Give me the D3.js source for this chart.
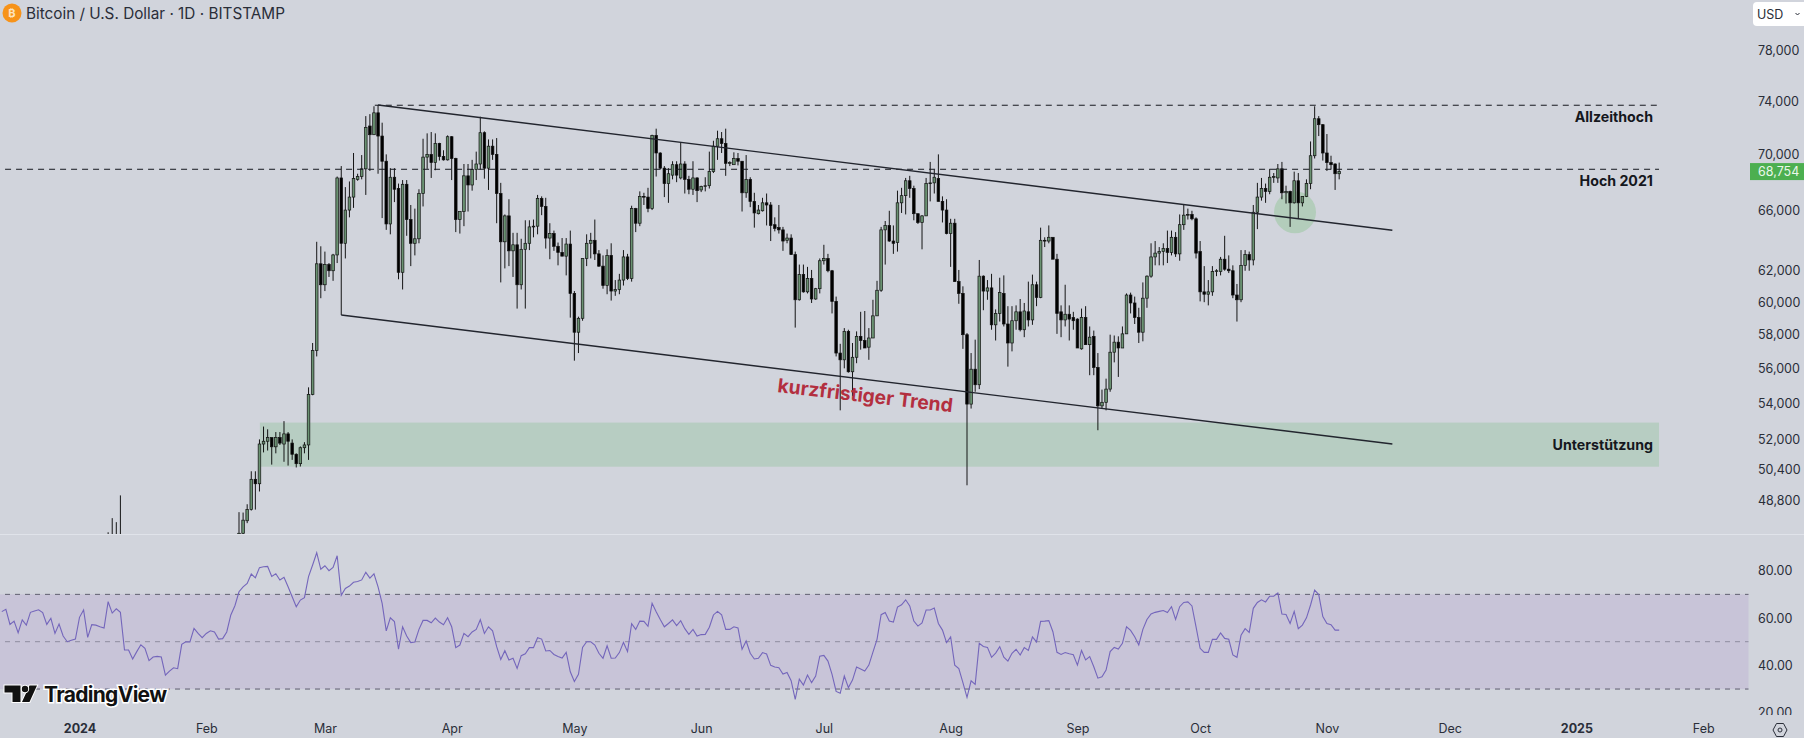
<!DOCTYPE html>
<html>
<head>
<meta charset="utf-8">
<style>
  html, body { margin: 0; padding: 0; background: #d1d4dc; }
  svg { display: block; font-family: Inter, "Noto Sans", sans-serif; }
</style>
<script src="https://cdn.jsdelivr.net/npm/d3@7"></script>
</head>
<body>
<svg id="chart" width="1804" height="738"></svg>
<script>
// day numbers count from 1 Jan 2024 = 0
var candleDays = [7, 8, 9, 10].concat(d3.range(39, 309));

var opens = [
  44000, 46950, 46100, 46650,
  45300, 47150, 47770, 48330, 49880, 49650, 51750, 51900, 52100, 51600,
  52100, 51750, 52300, 51800, 51200, 50700, 51550, 51700, 54500, 57050,
  62450, 61100, 62400, 62000, 63030, 68300, 63800, 66050, 66950, 68200,
  68400, 68950, 72100, 71450, 73100, 71350, 69500, 65100, 68350, 67550,
  61900, 67850, 65400, 63800, 64100, 67200, 69800, 70000, 69400, 70800,
  69850, 69600, 71300, 69700, 65400, 65950, 68450, 67800, 68900, 69300,
  71600, 69000, 70600, 70000, 67200, 63900, 65650, 63300, 63700, 61100,
  63400, 63800, 64900, 64950, 66850, 66300, 64150, 64450, 63600, 63200,
  62950, 63750, 60550, 58150, 59000, 62800, 63800, 64000, 63100, 62300,
  61050, 63000, 60700, 60800, 61400, 62900, 61500, 66150, 65150, 67000,
  66950, 66150, 71400, 70100, 69000, 67900, 68500, 69250, 68300, 69300,
  68200, 67500, 68300, 67450, 67700, 67750, 68750, 70600, 71150, 70800,
  69350, 69250, 69700, 69500, 67250, 68200, 66650, 65800, 66000, 66550,
  66400, 65050, 64850, 64700, 64000, 64150, 63050, 60150, 61750, 60650,
  61500, 60200, 60850, 62650, 62800, 62000, 60050, 56900, 56500, 58200,
  55800, 56650, 57900, 57650, 57250, 57800, 59150, 60750, 64700, 65000,
  63950, 63850, 66550, 67050, 68100, 67550, 65800, 65200, 65650, 67900,
  67950, 68250, 66650, 66050, 64450, 65150, 61300, 60550, 58000, 53950,
  55950, 55050, 61650, 60700, 60900, 58600, 59300, 60550, 58650, 57500,
  58850, 59400, 58300, 59400, 58900, 61100, 60300, 64000, 63950, 64200,
  62750, 59400, 58900, 59250, 59050, 58950, 57150, 59050, 57400, 57900,
  56050, 53850, 54050, 54800, 56950, 57550, 57200, 58050, 60450, 59950,
  59050, 58150, 60250, 61650, 62900, 63150, 63250, 63450, 63200, 64200,
  63100, 65050, 65700, 65750, 65450, 63250, 60650, 60500, 60650, 61950,
  61950, 62750, 62100, 62000, 60450, 60150, 62350, 63050, 62700, 65900,
  66950, 67550, 67350, 68350, 68300, 68950, 67250, 67350, 66550, 68100,
  66550, 67000, 67900, 69900, 72650, 72200, 70100, 69400, 69300, 68600
];

var highs = [
  47200, 47900, 47700, 49050,
  48200, 48180, 48600, 50300, 50300, 52000, 52700, 52550, 52100, 52400,
  52400, 53000, 52400, 52000, 51250, 51620, 51850, 54900, 57500, 63900,
  63600, 63250, 62500, 63100, 68400, 69150, 67650, 68050, 70100, 68600,
  69950, 72850, 73000, 73600, 73700, 72350, 70000, 69000, 69000, 67900,
  68150, 68150, 66400, 66150, 67500, 71150, 71550, 71650, 71550, 70850,
  70300, 71400, 71350, 69750, 65950, 69300, 69300, 69600, 70200, 72800,
  71700, 71100, 71100, 71200, 67950, 65750, 66800, 64500, 64500, 64100,
  65350, 65350, 65400, 67100, 67000, 66900, 65150, 64650, 63850, 64150,
  64150, 64650, 60700, 59100, 62800, 64400, 64500, 65400, 63350, 63000,
  63400, 63800, 61400, 61800, 63350, 63100, 66350, 66200, 67350, 67250,
  67600, 71450, 71900, 70150, 69150, 69000, 69500, 69500, 70900, 69500,
  68450, 69500, 68350, 67750, 68350, 70200, 71000, 71750, 71650, 71900,
  69500, 70150, 70100, 69500, 69950, 68350, 67250, 66400, 66900, 67200,
  66600, 65550, 66400, 64900, 64450, 64400, 63250, 62400, 62400, 62250,
  62050, 60900, 62800, 63700, 63100, 62050, 60350, 57450, 58400, 58300,
  57500, 58200, 59400, 59450, 58400, 60150, 61350, 64900, 65300, 66000,
  65000, 67400, 67600, 68300, 68450, 67750, 65800, 65700, 68300, 69450,
  68900, 70000, 67000, 66800, 65450, 65450, 62050, 61000, 58100, 56900,
  57700, 62700, 61700, 61400, 61800, 59550, 61550, 61700, 59750, 59750,
  59800, 60200, 59950, 61300, 61750, 61300, 64850, 64200, 65000, 64200,
  63100, 59800, 61100, 59800, 59400, 59000, 59600, 59750, 58500, 58250,
  56900, 54770, 55400, 58000, 57950, 57900, 58500, 60550, 60600, 60350,
  59650, 61250, 61700, 63800, 63950, 63550, 63800, 64650, 64650, 64550,
  65750, 66450, 66150, 66000, 65550, 63950, 62300, 61400, 62300, 62100,
  62900, 64300, 63000, 62350, 61150, 63350, 63350, 63250, 66400, 67950,
  68300, 67900, 68950, 68650, 69300, 69450, 67750, 67400, 68750, 68650,
  67000, 68200, 70950, 73600, 72850, 72250, 71500, 69900, 69350, 69400
];

var lows = [
  43300, 44500, 44300, 45600,
  45250, 46800, 47650, 48280, 48330, 49250, 51300, 51400, 50650, 51250,
  51700, 50800, 50600, 50900, 50500, 50550, 51250, 50900, 54450, 56700,
  60250, 60700, 61600, 61350, 62500, 59200, 62800, 65550, 66200, 68100,
  68200, 67100, 68800, 71450, 68600, 65500, 64700, 64400, 66600, 61450,
  60800, 64300, 62300, 63000, 63800, 66300, 68950, 68300, 68850, 69550,
  69550, 69550, 68150, 64550, 64450, 64950, 65950, 67400, 68150, 68900,
  68250, 67450, 69600, 65150, 61250, 62150, 62300, 61600, 59600, 60800,
  59600, 63350, 64200, 64400, 65700, 63450, 62750, 63300, 62350, 62950,
  61700, 59040, 56450, 56900, 58850, 62300, 62800, 62700, 62250, 60850,
  60500, 60100, 60400, 60500, 61050, 61400, 61300, 64550, 64950, 66400,
  65900, 66050, 68400, 68900, 66950, 66550, 68200, 68000, 68200, 67200,
  67150, 67100, 66600, 67300, 67350, 67550, 68650, 69600, 70100, 68450,
  69150, 69250, 69200, 65950, 66900, 66250, 64850, 65750, 65950, 65000,
  63950, 64600, 64450, 63300, 63800, 63050, 58430, 60100, 60600, 60550,
  59950, 60150, 60550, 62400, 61900, 59300, 56700, 53600, 56000, 55750,
  54400, 56300, 57100, 57200, 56500, 57800, 59150, 60650, 62400, 63900,
  63100, 63250, 65850, 65750, 66900, 65350, 65100, 63400, 65650, 66650,
  67200, 66650, 65200, 64400, 62250, 61300, 59900, 57150, 49570, 53700,
  54650, 54800, 59500, 60150, 58300, 57650, 58800, 58500, 56100, 57000,
  58300, 58200, 57850, 58500, 58600, 59750, 60250, 63550, 63800, 62750,
  58050, 57850, 58500, 57650, 58300, 57200, 57100, 57400, 55600, 55600,
  52500, 53700, 53600, 54650, 56350, 55500, 57200, 58050, 59300, 58650,
  57500, 57600, 59650, 61550, 62350, 62350, 62350, 62500, 63000, 62900,
  62650, 64700, 65400, 65350, 62800, 60050, 60000, 59800, 60400, 61650,
  61700, 62000, 61850, 60250, 58800, 60000, 62000, 62000, 62350, 64750,
  66700, 66550, 67150, 67950, 67950, 66800, 66500, 64900, 66500, 65450,
  66300, 66950, 67500, 69700, 71350, 69550, 68800, 68900, 67450, 68200
];

var closes = [
  46950, 46100, 46650, 46350,
  47150, 47800, 48330, 49880, 49650, 51750, 51900, 52100, 51600, 52100,
  51800, 52300, 51900, 51200, 50700, 51550, 51700, 54500, 57050, 62450,
  61100, 62400, 62000, 63030, 68300, 63800, 66050, 66950, 68250, 68400,
  68950, 72000, 71450, 73100, 71350, 69500, 65100, 68350, 67500, 61900,
  67850, 65400, 63800, 64100, 67200, 69800, 70000, 69400, 70800, 69850,
  69600, 71300, 69700, 65400, 65950, 68450, 67800, 68900, 69300, 71600,
  69000, 70600, 70000, 67200, 63900, 65650, 63300, 63700, 61100, 63400,
  63800, 64900, 64950, 66850, 66300, 64150, 64450, 63600, 63200, 62950,
  63750, 60550, 58150, 59000, 62800, 63800, 64000, 63100, 62300, 61050,
  63000, 60700, 60800, 61400, 62900, 61500, 66150, 65150, 67000, 66950,
  66150, 71400, 70100, 69000, 67900, 68600, 69250, 68500, 69300, 68200,
  67500, 68300, 67400, 67700, 67750, 68750, 70600, 71150, 70800, 69350,
  69400, 69700, 69500, 67250, 68200, 66650, 65850, 66050, 66550, 66400,
  65000, 64800, 64700, 63950, 64150, 63050, 60150, 61750, 60650, 61500,
  60200, 60850, 62650, 62800, 62000, 60050, 56900, 56500, 58200, 55800,
  56650, 57900, 57650, 57200, 57800, 59150, 60750, 64700, 65000, 63950,
  63800, 66550, 67050, 68100, 67550, 65800, 65200, 65650, 67900, 67950,
  68350, 66650, 66050, 64450, 65150, 61300, 60550, 58000, 53950, 55950,
  55050, 61650, 60700, 60900, 58600, 59300, 60600, 58650, 57500, 58850,
  59400, 58300, 59450, 58900, 61100, 60300, 64000, 63950, 64200, 62750,
  59300, 58900, 59250, 58950, 58850, 57200, 59050, 57400, 57850, 56050,
  53850, 54050, 54800, 56950, 57550, 57200, 58050, 60450, 59950, 59050,
  58150, 60250, 61650, 62900, 63150, 63250, 63450, 63200, 64200, 63100,
  65050, 65700, 65750, 65450, 63150, 60650, 60500, 60650, 61950, 62000,
  62750, 62100, 62000, 60450, 60150, 62350, 63050, 62700, 65900, 66950,
  67550, 67350, 68350, 68400, 68950, 67250, 67350, 66550, 68100, 66550,
  67000, 67900, 69900, 72650, 72200, 70100, 69400, 69250, 68600, 68754
];

// RSI, one value per day from day -19 to day 308
var rsiStartDay = -19;
var rsiValues = [
  62.7, 63.7, 57.3, 58.7, 53.8, 59.2, 57.0, 62.4, 63.0, 63.5,
  62.3, 57.3, 59.9, 53.5, 57.5, 52.4, 50.0, 50.6, 51.1, 60.3,
  63.4, 51.8, 57.2, 57.0, 56.3, 55.8, 66.9, 62.1, 63.9, 62.4,
  46.5, 46.5, 42.7, 45.8, 48.7, 47.2, 42.0, 43.5, 43.8, 43.5,
  35.9, 37.6, 39.0, 38.6, 48.9, 50.0, 49.9, 55.6, 53.5, 51.7,
  53.5, 54.6, 54.1, 51.1, 51.3, 54.1, 61.3, 65.2, 71.1, 73.2,
  74.6, 78.6, 77.0, 81.3, 81.7, 81.8, 77.6, 78.7, 76.1, 77.2,
  73.2, 69.0, 64.8, 67.6, 68.6, 77.5, 82.4, 87.6, 80.6, 82.1,
  80.0, 81.4, 86.3, 69.6, 72.5, 73.5, 75.1, 75.4, 76.1, 79.3,
  76.9, 78.7, 73.2, 66.2, 54.6, 60.1, 58.5, 46.8, 56.3, 52.4,
  49.6, 49.9, 55.2, 59.0, 59.0, 58.0, 60.0, 58.3, 57.2, 60.1,
  56.3, 47.5, 48.6, 53.5, 52.1, 54.1, 55.2, 59.3, 53.5, 56.3,
  54.6, 47.9, 42.5, 46.2, 42.3, 43.0, 38.7, 44.1, 44.9, 47.5,
  47.5, 51.7, 51.1, 46.1, 46.3, 44.6, 43.7, 43.1, 45.5, 37.3,
  33.2, 36.2, 47.6, 50.0, 50.0, 48.6,
  45.1, 43.0, 48.3, 43.0, 43.1, 45.4, 49.7, 45.8, 57.6, 55.2,
  58.7, 58.6, 56.5, 66.2, 62.7, 59.4, 56.3, 57.7, 59.2, 56.8,
  58.9, 55.5, 53.1, 55.2, 52.4, 53.0, 53.1, 56.1, 61.3, 62.8,
  61.4, 55.2, 55.2, 56.3, 55.8, 46.8, 50.3, 45.1, 42.7, 43.0,
  45.4, 44.8, 40.0, 39.3, 39.0, 36.3, 37.0, 33.5, 25.6, 34.2,
  31.7, 35.9, 32.7, 35.5, 43.9, 44.2, 41.8, 36.2, 29.0, 28.2,
  35.5, 30.6, 33.8, 39.3, 38.5, 37.6, 40.1, 45.6, 51.0, 61.4,
  62.3, 58.7, 58.3, 64.6, 65.6, 67.7, 65.1, 58.7, 56.6, 57.9,
  63.4, 63.4, 64.2, 57.7, 54.9, 49.6, 52.0, 40.1, 38.6, 32.7,
  26.5, 33.5, 32.0, 49.3, 48.0, 47.6, 43.4, 45.2, 47.9, 43.5,
  41.8, 45.1, 46.8, 44.4, 47.5, 46.3, 52.0, 49.9, 58.6, 58.7,
  58.9, 54.2, 45.5, 44.6, 45.4, 44.9, 44.5, 40.1, 46.3, 42.3,
  43.7, 39.4, 34.6, 35.2, 38.0, 45.8, 47.6, 46.9, 49.3, 56.3,
  54.8, 52.1, 48.6, 55.2, 59.4, 61.7, 62.4, 62.8, 63.2, 62.3,
  64.8, 59.4, 64.8, 66.6, 66.8, 65.1, 56.3, 47.2,
  45.5, 45.5, 51.0, 51.0, 53.7, 51.4, 51.0, 44.4, 43.4, 52.7,
  55.5, 53.9, 64.1, 66.6, 67.7, 66.8, 69.2, 69.2, 70.6, 61.7,
  61.5, 57.7, 62.8, 55.5, 57.0, 60.1, 65.5, 71.8, 69.9, 60.6,
  57.7, 57.2, 54.9, 54.9
];

var priceTicks = [78000, 74000, 70000, 66000, 62000, 60000, 58000, 56000, 54000, 52000, 50400, 48800];
var rsiTicks = [80, 60, 40, 20];
var rsiLevels = [70, 50, 30];
var monthDays = [0, 31, 60, 91, 121, 152, 182, 213, 244, 274, 305, 335, 366, 397];
var monthLabels = ["2024", "Feb", "Mar", "Apr", "May", "Jun", "Jul", "Aug", "Sep", "Oct", "Nov", "Dec", "2025", "Feb"];

var lastPrice = 68754;
var allTimeHigh = 73680;
var high2021 = 68920;
var supportZone = [52920, 50540];
var upperTrend = [[73, 73700], [321, 64670]];
var lowerTrend = [[64, 59200], [321, 51750]];
var retestPoint = [297.2, 65900];

var svg = d3.select("#chart");
var defs = svg.append("defs");
defs.append("clipPath").attr("id", "mainClip").append("rect")
  .attr("x", 0).attr("y", 0).attr("width", 1750).attr("height", 534);
// local to the axis group, which is moved to x=1751
defs.append("clipPath").attr("id", "rsiAxisClip").append("rect")
  .attr("x", -1).attr("y", 535).attr("width", 54).attr("height", 180);

var x = d3.scaleLinear().domain([0, 366]).range([79.5, 1576.4]);
var y = d3.scaleLog().domain([78000, 48800]).range([50.6, 500.3]);
var rsiY = d3.scaleLinear().domain([80, 20]).range([570.7, 712.7]);

var textCol = "#2a2e39";
var green = "#6a9272";

// pane divider
svg.append("line").attr("x1", 0).attr("x2", 1804).attr("y1", 534.5).attr("y2", 534.5)
  .attr("stroke", "#e0e3ea").attr("stroke-width", 1);

var main = svg.append("g").attr("clip-path", "url(#mainClip)");

// support zone and retest circle sit under the candles
main.append("rect")
  .attr("x", x(44.1)).attr("width", x(386.2) - x(44.1))
  .attr("y", y(supportZone[0])).attr("height", y(supportZone[1]) - y(supportZone[0]))
  .attr("fill", "#b7cdc2");
main.append("circle")
  .attr("cx", x(retestPoint[0])).attr("cy", y(retestPoint[1])).attr("r", 21)
  .attr("fill", "#b3cdbb");

var candles = candleDays.map(function (d, i) {
  return { day: d, o: opens[i], h: highs[i], l: lows[i], c: closes[i] };
});

main.selectAll("line.wick")
  .data(candles)
  .join("line")
  .attr("class", "wick")
  .attr("x1", d => x(d.day)).attr("x2", d => x(d.day))
  .attr("y1", d => y(d.h)).attr("y2", d => y(d.l))
  .attr("stroke", "#0b0b0b").attr("stroke-width", 0.95);

main.selectAll("rect.body")
  .data(candles)
  .join("rect")
  .attr("class", "body")
  .attr("x", d => x(d.day) - 1.3)
  .attr("width", 2.6)
  .attr("y", d => y(Math.max(d.o, d.c)))
  .attr("height", d => Math.max(0.8, Math.abs(y(d.o) - y(d.c))))
  .attr("fill", d => d.c >= d.o ? green : "#000")
  .attr("stroke", "#111")
  .attr("stroke-width", 0.7);

// drawn levels
main.append("line")
  .attr("x1", x(-18.2)).attr("x2", x(386.2))
  .attr("y1", y(high2021)).attr("y2", y(high2021))
  .attr("stroke", "#16181f").attr("stroke-width", 1).attr("stroke-dasharray", "6,5");
main.append("line")
  .attr("x1", x(72.2)).attr("x2", x(386.2))
  .attr("y1", y(allTimeHigh)).attr("y2", y(allTimeHigh))
  .attr("stroke", "#16181f").attr("stroke-width", 1).attr("stroke-dasharray", "6,5");

var trendLine = d3.line().x(d => x(d[0])).y(d => y(d[1]));
[upperTrend, lowerTrend].forEach(function (t) {
  main.append("path").attr("d", trendLine(t))
    .attr("fill", "none").attr("stroke", "#22252e").attr("stroke-width", 1.4);
});

// annotations
var notes = [
  { text: "Allzeithoch", yy: 117 },
  { text: "Hoch 2021", yy: 181 },
  { text: "Unterstützung", yy: 445 }
];
svg.selectAll("text.note")
  .data(notes)
  .join("text")
  .attr("class", "note")
  .attr("x", 1653).attr("y", d => d.yy)
  .attr("dy", "0.36em")
  .attr("text-anchor", "end")
  .attr("font-size", 14.2).attr("font-weight", 700)
  .attr("fill", "#15171d")
  .text(d => d.text);

svg.append("text")
  .attr("transform", "translate(777,392) rotate(6.6)")
  .attr("font-size", 19.2).attr("font-weight", 700)
  .attr("fill", "#b32f3f")
  .text("kurzfristiger Trend");

// RSI pane
svg.append("rect")
  .attr("x", 0).attr("width", 1748.5)
  .attr("y", rsiY(70)).attr("height", rsiY(30) - rsiY(70))
  .attr("fill", "#c8c4d8");
svg.selectAll("line.rsiLevel")
  .data(rsiLevels)
  .join("line")
  .attr("class", "rsiLevel")
  .attr("x1", 5).attr("x2", 1748.5)
  .attr("y1", d => rsiY(d)).attr("y2", d => rsiY(d))
  .attr("stroke", d => d === 50 ? "#8e8d9f" : "#5f5f70")
  .attr("stroke-width", 1)
  .attr("stroke-dasharray", "5,5");

var rsiLine = d3.line()
  .x((d, i) => x(rsiStartDay + i))
  .y(d => rsiY(d));
svg.append("path").datum(rsiValues)
  .attr("d", rsiLine)
  .attr("fill", "none")
  .attr("stroke", "#7466bb")
  .attr("stroke-width", 1.1);

// axes
var priceAxis = d3.axisRight(y).tickValues(priceTicks).tickSize(0).tickPadding(7)
  .tickFormat(d3.format(","));
var gPrice = svg.append("g").attr("transform", "translate(1751,0)").call(priceAxis);
gPrice.select(".domain").remove();

var gRsi = svg.append("g").attr("transform", "translate(1751,0)")
  .attr("clip-path", "url(#rsiAxisClip)")
  .call(d3.axisRight(rsiY).tickValues(rsiTicks).tickSize(0).tickPadding(7).tickFormat(d3.format(".2f")));
gRsi.select(".domain").remove();

var gTime = svg.append("g").attr("transform", "translate(0,724)")
  .call(d3.axisBottom(x).tickValues(monthDays).tickSize(0).tickPadding(0)
    .tickFormat((d, i) => monthLabels[i]));
gTime.select(".domain").remove();
gTime.selectAll("text")
  .attr("font-weight", (d, i) => /^\d/.test(monthLabels[i]) ? 700 : 400);

[gPrice, gRsi, gTime].forEach(function (g) {
  g.selectAll("text")
    .attr("font-family", "Inter, sans-serif")
    .attr("font-size", 12.5)
    .attr("fill", textCol);
});

// last price tag
svg.append("rect").attr("x", 1750).attr("y", y(lastPrice) - 8.5).attr("width", 54).attr("height", 17)
  .attr("fill", "#4caf50");
svg.append("text").attr("x", 1758).attr("y", y(lastPrice)).attr("dy", "0.36em")
  .attr("font-size", 12.5).attr("fill", "#e9f7ea")
  .text(d3.format(",")(lastPrice));

// currency button
svg.append("rect").attr("x", 1753).attr("y", 2).attr("width", 60).attr("height", 24).attr("rx", 4)
  .attr("fill", "#fff");
svg.append("text").attr("x", 1757).attr("y", 14).attr("dy", "0.36em")
  .attr("font-size", 12.5).attr("fill", "#2a2e39").text("USD");
svg.append("path").attr("d", "M1795.5 13 l2 2 l2 -2")
  .attr("fill", "none").attr("stroke", "#2a2e39").attr("stroke-width", 1);

// title with coin icon
svg.append("circle").attr("cx", 12).attr("cy", 13).attr("r", 9.5).attr("fill", "#f7931a");
svg.append("text").attr("x", 12).attr("y", 13).attr("dy", "0.36em")
  .attr("text-anchor", "middle").attr("font-size", 11).attr("font-weight", 700)
  .attr("fill", "#fde3bf").text("₿");
svg.append("text").attr("x", 26).attr("y", 13).attr("dy", "0.36em")
  .attr("font-size", 15.3).attr("fill", "#2a2e39")
  .text("Bitcoin / U.S. Dollar · 1D · BITSTAMP");

// TradingView mark
var logo = svg.append("g");
logo.append("path")
  .attr("d", "M4.5 685.5 H20.5 V702 H12.5 V692.5 H4.5 Z M29.5 685.5 H37 L29.5 702 H22 Z")
  .attr("fill", "#111").attr("stroke", "#fff").attr("stroke-width", 2).attr("paint-order", "stroke");
logo.append("circle").attr("cx", 25).attr("cy", 689).attr("r", 3.2)
  .attr("fill", "#111").attr("stroke", "#fff").attr("stroke-width", 2).attr("paint-order", "stroke");
logo.append("text").attr("x", 44).attr("y", 694).attr("dy", "0.36em")
  .attr("font-size", 21).attr("font-weight", 700).attr("letter-spacing", -0.7)
  .attr("fill", "#111").attr("stroke", "#fff").attr("stroke-width", 3).attr("paint-order", "stroke")
  .text("TradingView");

// settings hexagon
svg.append("path").attr("d", "M1773 730 l3.5 -6.5 h7 l3.5 6.5 l-3.5 6.5 h-7 Z")
  .attr("fill", "none").attr("stroke", "#2a2e39").attr("stroke-width", 1);
svg.append("circle").attr("cx", 1780).attr("cy", 730).attr("r", 2)
  .attr("fill", "none").attr("stroke", "#2a2e39").attr("stroke-width", 1);
</script>
</body>
</html>
